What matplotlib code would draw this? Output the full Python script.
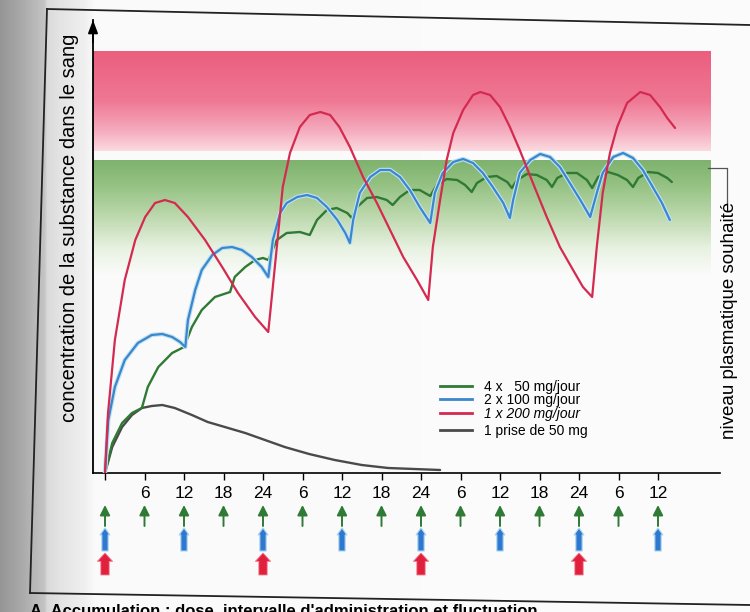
import numpy as np
import matplotlib.pyplot as plt
import matplotlib.patheffects as pe
from matplotlib.lines import Line2D

plt.rcParams['font.family'] = ['Liberation Sans', 'DejaVu Sans']

# --- data (hours, concentration in arbitrary units) ---
red_t = [0, 0.46, 1.5, 3.0, 4.6, 6.1, 7.6, 9.1, 10.6, 12.6, 15.2, 17.8, 20.2, 22.8, 24.8,
         25.4, 26.1, 27.0, 28.1, 29.6, 31.1, 32.7, 34.2, 35.6, 37.2, 39.2, 41.3, 43.3, 45.3, 47.4, 49.1,
         49.8, 50.9, 51.9, 52.9, 54.4, 55.9, 57.0, 58.5, 60.0, 61.5, 63.0, 65.0, 67.1, 69.1, 71.1, 72.6, 74.0,
         74.7, 75.6, 76.7, 77.8, 79.3, 81.3, 82.8, 84.3, 85.4, 86.6]
red_v = [0, 60, 133, 193, 233, 256, 270, 273, 270, 256, 233, 206, 180, 156, 141,
         180, 226, 286, 320, 346, 358, 361, 358, 346, 326, 296, 270, 243, 216, 193, 173,
         226, 273, 313, 340, 363, 378, 381, 378, 366, 346, 323, 290, 256, 226, 203, 186, 176,
         226, 280, 320, 346, 370, 381, 378, 366, 355, 345]

blue_t = [0, 0.5, 1.5, 3.0, 5.0, 7.1, 8.7, 10.2, 11.4, 12.2,
          12.6, 13.7, 14.7, 16.3, 17.8, 19.3, 20.8, 22.3, 23.8, 24.8,
          25.5, 26.6, 27.6, 29.2, 30.7, 32.2, 33.7, 35.3, 36.5, 37.2,
          37.7, 38.7, 40.3, 41.8, 43.3, 44.8, 46.3, 47.8, 49.4,
          50.1, 51.3, 52.9, 54.4, 55.9, 57.4, 58.9, 60.5, 61.5,
          62.0, 63.0, 64.6, 66.1, 67.6, 69.1, 70.6, 72.2, 73.7,
          74.7, 75.6, 77.2, 78.7, 80.2, 81.7, 83.2, 84.6, 85.8]
blue_v = [0, 53, 86, 113, 130, 138, 139, 136, 131, 126,
          153, 183, 203, 218, 225, 226, 223, 216, 206, 196,
          233, 260, 270, 276, 278, 275, 266, 253, 240, 230,
          253, 280, 296, 303, 303, 296, 283, 266, 250,
          280, 300, 311, 314, 310, 300, 286, 270, 255,
          273, 300, 313, 319, 316, 306, 290, 273, 256,
          280, 300, 316, 320, 315, 303, 286, 270, 253]

green_t = [0, 1.1, 2.6, 4.1, 5.6, 6.5, 8.1, 10.2, 12.0, 13.2, 14.7, 16.7, 19.0, 19.7, 21.3, 22.8, 24.0, 24.8,
           26.1, 27.6, 29.6, 31.1, 32.2, 33.7, 35.2, 36.8, 37.5, 38.3, 39.8, 41.3, 42.8, 43.7,
           44.8, 46.3, 47.8, 49.4, 50.4, 51.9, 53.5, 54.7, 55.7, 56.5, 58.0, 59.5, 61.1, 61.8,
           62.6, 64.1, 65.6, 67.1, 67.9, 68.7, 70.2, 71.7, 73.2, 74.0, 74.9, 76.4, 77.9, 79.3, 80.2,
           81.0, 82.5, 84.0, 85.4, 86.1]
green_v = [0, 30, 50, 60, 65, 86, 106, 120, 126, 146, 163, 176, 181, 196, 206, 213, 215, 213,
           233, 240, 241, 238, 253, 263, 265, 260, 255, 266, 275, 276, 273, 268,
           276, 283, 283, 277, 288, 294, 293, 288, 281, 290, 296, 297, 291, 285,
           293, 299, 298, 293, 286, 295, 300, 300, 293, 285, 296, 301, 298, 293, 286,
           295, 301, 300, 295, 291]

grey_t = [0, 1.1, 2.6, 4.1, 5.6, 7.1, 8.7, 10.6, 13.2, 15.6, 18.2, 21.3, 24.3, 27.3, 31.0, 34.9, 39.0, 43.0, 50.9]
grey_v = [0, 26, 46, 58, 65, 67, 68, 65, 58, 51, 46, 40, 33, 26, 19, 13, 8, 5, 3]

labels = ['4 x   50 mg/jour', '2 x 100 mg/jour', '1 x 200 mg/jour', '1 prise de 50 mg']

tick_hours = list(range(0, 85, 6))
tick_labels = ['', '6', '12', '18', '24', '6', '12', '18', '24', '6', '12', '18', '24', '6', '12']

doses_green = list(range(0, 85, 6))    # 4 x 50 mg
doses_blue = list(range(0, 85, 12))    # 2 x 100 mg
doses_red = [0, 24, 48, 72]            # 1 x 200 mg

pink_band = (322, 422)     # zone toxique
green_band = (195, 313)    # niveau plasmatique souhaité
band_end = 91.9

c_green = '#2f7a34'
c_blue = '#3b86cc'
c_red = '#d42a50'
c_grey = '#4a4a4a'

W, H = 750, 612
fig = plt.figure(figsize=(7.5, 6.12), dpi=100)

# scanned page background
bg = fig.add_axes([0, 0, 1, 1], zorder=-5)
cols = np.arange(W)
shade = np.interp(cols, [0, 20, 44, 47, 60, 85, 95, 749], [150, 168, 196, 218, 228, 240, 250, 252])
img = np.tile(shade[None, :, None], (2, 1, 3)) / 255
bg.imshow(img, extent=[0, W, H, 0], aspect='auto')
bg.plot([47, 750], [9, 25], color='#222', lw=1.3)
bg.plot([47, 30], [9, 593], color='#222', lw=1.3)
bg.plot([30, 750], [593, 605], color='#222', lw=1.3)
bg.set_xlim(0, W)
bg.set_ylim(H, 0)
bg.axis('off')

# main axes: t=0 at x=105px, 6h = 39.5px
pph = 39.5 / 6
ax = fig.add_axes([93 / W, (H - 473) / H, (720 - 93) / W, (473 - 20) / H])
ax.patch.set_alpha(0)
x_left = (93 - 105) / pph
x_right = (720 - 105) / pph


def vgrad(stops, n=200):
    v = np.linspace(0, 1, n)
    rgb = np.stack([np.interp(v, [s[0] for s in stops], [s[1][i] for s in stops]) for i in range(3)], axis=-1)
    return rgb[::-1, None, :] / 255


pink = vgrad([(0, (250, 218, 224)), (0.2, (245, 172, 190)), (0.5, (239, 120, 148)), (1, (235, 94, 126))])
green = vgrad([(0, (252, 252, 252)), (0.25, (232, 242, 226)), (0.55, (184, 214, 168)),
               (0.8, (148, 193, 130)), (1, (126, 178, 110))])
ax.imshow(pink, extent=[x_left, band_end, pink_band[0], pink_band[1]], aspect='auto',
          interpolation='bilinear', zorder=0)
ax.imshow(green, extent=[x_left, band_end, green_band[0], green_band[1]], aspect='auto',
          interpolation='bilinear', zorder=0)

kw = dict(solid_joinstyle='round', solid_capstyle='round', zorder=3)
ax.plot(grey_t, grey_v, color=c_grey, lw=1.7, **kw)
ax.plot(green_t, green_v, color=c_green, lw=1.7, **kw)
ax.plot(blue_t, blue_v, color=c_blue, lw=1.6,
        path_effects=[pe.Stroke(linewidth=3.2, foreground='#bfe2f2'), pe.Normal()], **kw)
ax.plot(red_t, red_v, color=c_red, lw=1.6, **kw)

ax.set_xlim(x_left, x_right)
ax.set_ylim(0, 453)
ax.set_xticks(tick_hours)
ax.set_xticklabels(tick_labels)
ax.set_yticks([])
ax.tick_params(axis='x', length=5, width=1, pad=4, labelsize=12.5)
for s in ['top', 'right']:
    ax.spines[s].set_visible(False)
ax.spines['left'].set_linewidth(1.3)
ax.spines['bottom'].set_linewidth(1.2)
ax.annotate('', xy=(0, 1.0), xytext=(0, 0.95), xycoords='axes fraction',
            arrowprops=dict(arrowstyle='-|>,head_length=0.8,head_width=0.3', color='k', lw=1.2,
                            shrinkA=0, shrinkB=0))

ax.set_ylabel('concentration de la substance dans le sang', fontsize=14.5, rotation=90)
ax.yaxis.label.set_va('center')
ax.yaxis.set_label_coords((70 - 93) / 627, (473 - 228) / 453)

# dose arrows below the time axis
for t in doses_green:
    ax.annotate('', xy=(t, -32), xytext=(t, -53), xycoords=('data', 'axes pixels'),
                arrowprops=dict(arrowstyle='-|>,head_length=0.6,head_width=0.3', color=c_green,
                                lw=1.4, shrinkA=0, shrinkB=0), annotation_clip=False)
for t in doses_blue:
    ax.annotate('', xy=(t, -55), xytext=(t, -78), xycoords=('data', 'axes pixels'),
                arrowprops=dict(arrowstyle='simple,head_length=0.5,head_width=0.7,tail_width=0.45',
                                fc='#2f78d0', ec='#a9d4f0', lw=0.8, shrinkA=0, shrinkB=0),
                annotation_clip=False)
for t in doses_red:
    ax.annotate('', xy=(t, -80), xytext=(t, -102), xycoords=('data', 'axes pixels'),
                arrowprops=dict(arrowstyle='simple,head_length=0.6,head_width=1.1,tail_width=0.6',
                                fc='#e0203c', ec='#f08090', lw=0.6, shrinkA=0, shrinkB=0),
                annotation_clip=False)

# legend
handles = [Line2D([], [], color=c, lw=2) for c in [c_green, c_blue, c_red, c_grey]]
leg1 = ax.legend(handles[:3], labels[:3], loc='upper left', bbox_to_anchor=(440 / W, 1 - 380 / H),
                 bbox_transform=fig.transFigure, frameon=False, fontsize=10, handlelength=2.3,
                 handletextpad=0.9, labelspacing=-0.05, borderpad=0, borderaxespad=0)
leg1.get_texts()[2].set_fontstyle('italic')
ax.add_artist(leg1)
ax.legend(handles[3:], labels[3:], loc='upper left', bbox_to_anchor=(440 / W, 1 - 424 / H),
          bbox_transform=fig.transFigure, frameon=False, fontsize=10, handlelength=2.3,
          handletextpad=0.9, borderpad=0, borderaxespad=0)

# bracket and label for the desired level
ax.plot([band_end - 0.3, 94.5, 94.5], [green_band[1] - 8, green_band[1] - 8, green_band[1] - 43],
        color='#555', lw=0.9, clip_on=False)
ax.text((730 - 93) / 627, (473 - 320) / 453, 'niveau plasmatique souhaité', transform=ax.transAxes,
        rotation=90, ha='center', va='center', fontsize=13.5)

fig.text(30 / W, 1 - 615 / H, "A. Accumulation : dose, intervalle d'administration et fluctuation",
         fontsize=12, fontweight='bold', va='baseline')

fig.savefig('out.png', dpi=100)
